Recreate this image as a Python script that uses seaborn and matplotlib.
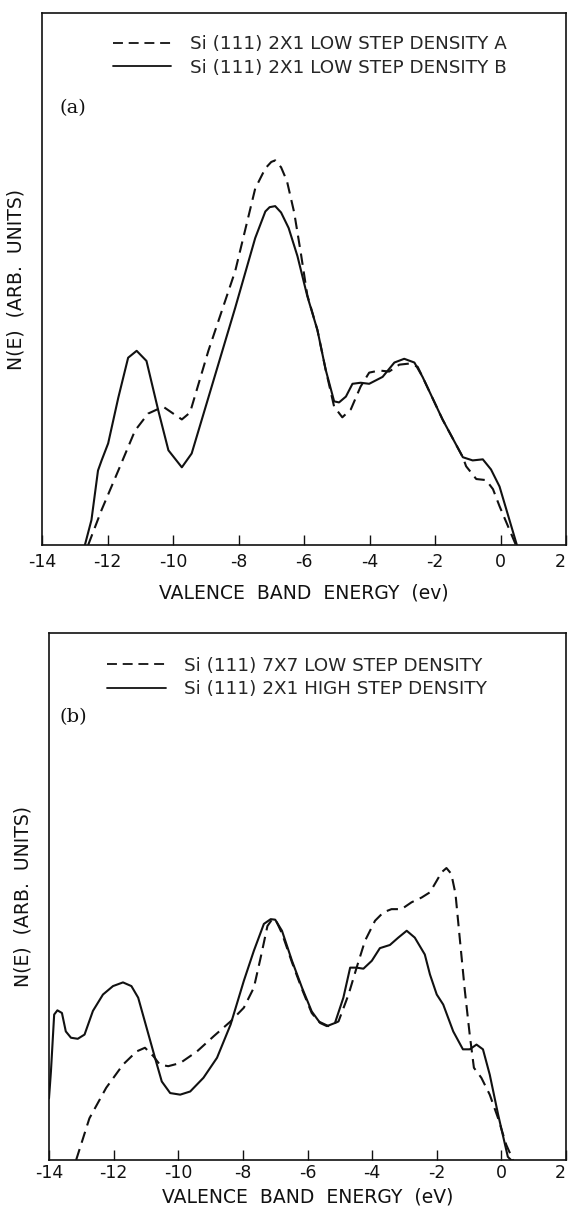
import matplotlib
matplotlib.use("Agg")
import matplotlib.pyplot as plt
import pandas as pd
import seaborn as sns

# ---------------- data: panel (a) ----------------
a_dash_E = [-12.59, -12.18, -11.67, -11.16, -10.76, -10.30, -10.04, -9.73, -9.48, -8.92,
            -8.10, -7.49, -7.18, -7.00, -6.88, -6.70, -6.52, -6.30, -6.10, -5.90,
            -5.59, -5.34, -5.08, -4.83, -4.57, -4.27, -4.01, -3.70, -3.40, -3.09,
            -2.79, -2.53, -2.38, -1.77, -1.15, -1.05, -0.74, -0.44, -0.23, -0.03, 0.47]
a_dash_N = [0.0, 6.6, 14.0, 21.5, 24.7, 26.0, 24.9, 23.6, 24.9, 36.5,
            51.5, 67.0, 70.8, 72.0, 72.3, 71.0, 68.4, 62.5, 55.0, 47.0,
            40.4, 33.0, 26.0, 24.0, 25.5, 29.8, 32.4, 32.8, 32.6, 33.9,
            34.1, 33.5, 31.6, 23.6, 16.5, 14.8, 12.4, 12.2, 10.5, 7.3, 0.0]

a_solid_E = [-12.69, -12.49, -12.29, -12.18, -11.98, -11.67, -11.37, -11.11, -10.81, -10.45,
             -10.14, -9.73, -9.43, -8.92, -8.10, -7.49, -7.18, -7.05, -6.88, -6.70,
             -6.47, -6.20, -5.90, -5.59, -5.34, -5.08, -4.93, -4.72, -4.52, -4.27,
             -4.01, -3.60, -3.24, -2.94, -2.63, -2.38, -1.77, -1.15, -0.85, -0.54,
             -0.29, -0.03, 0.50]
a_solid_N = [0.0, 4.7, 14.0, 15.9, 19.1, 27.7, 35.2, 36.5, 34.6, 25.3,
             17.8, 14.6, 17.2, 27.7, 44.6, 57.7, 62.7, 63.5, 63.7, 62.5,
             59.6, 54.3, 46.8, 40.4, 33.0, 27.0, 26.8, 27.9, 30.3, 30.5,
             30.3, 31.6, 34.3, 35.0, 34.3, 31.6, 23.6, 16.5, 15.9, 16.1,
             14.2, 11.0, 0.0]

# ---------------- data: panel (b) ----------------
b_dash_E = [-13.16, -12.75, -12.23, -11.71, -11.29, -11.03, -10.77, -10.57, -10.31, -9.94,
            -9.42, -8.90, -8.38, -7.97, -7.66, -7.45, -7.24, -7.09, -6.98, -6.79,
            -6.48, -6.17, -5.87, -5.66, -5.35, -5.04, -4.73, -4.48, -4.22, -3.91,
            -3.65, -3.40, -3.09, -2.78, -2.47, -2.21, -2.00, -1.85, -1.70, -1.55,
            -1.42, -1.29, -1.13, -0.98, -0.85, -0.62, -0.36, -0.10, 0.15, 0.36]
b_dash_N = [0.0, 7.9, 13.7, 18.1, 20.6, 21.3, 19.7, 18.1, 17.8, 18.4,
            20.6, 23.5, 26.3, 28.9, 32.7, 38.4, 44.4, 45.7, 45.5, 43.0,
            37.5, 32.4, 27.9, 26.3, 25.4, 26.3, 31.4, 36.5, 41.6, 45.4,
            47.0, 47.6, 47.6, 48.9, 49.8, 50.8, 53.0, 54.6, 55.4, 54.3,
            50.5, 42.2, 32.1, 23.8, 17.5, 15.6, 12.4, 7.9, 2.9, 0.0]

b_solid_E = [-14.00, -13.94, -13.84, -13.74, -13.60, -13.48, -13.32, -13.11, -12.90, -12.64,
             -12.33, -12.02, -11.71, -11.45, -11.24, -10.98, -10.72, -10.51, -10.25, -9.94,
             -9.63, -9.22, -8.80, -8.38, -7.97, -7.66, -7.35, -7.14, -7.00, -6.79,
             -6.48, -6.17, -5.87, -5.61, -5.40, -5.15, -4.89, -4.68, -4.48, -4.27,
             -4.01, -3.76, -3.45, -3.19, -2.93, -2.68, -2.37, -2.21, -2.00, -1.80,
             -1.49, -1.19, -0.98, -0.77, -0.57, -0.36, -0.10, 0.20, 0.30]
b_solid_N = [11.7, 16.8, 27.6, 28.4, 27.9, 24.4, 23.2, 23.0, 23.8, 28.3,
             31.4, 33.0, 33.7, 33.0, 30.8, 25.1, 19.4, 14.9, 12.7, 12.4,
             13.0, 15.6, 19.4, 25.7, 34.0, 39.7, 44.8, 45.7, 45.6, 43.5,
             37.8, 32.7, 28.2, 26.0, 25.4, 26.0, 30.8, 36.5, 36.5, 36.3,
             37.8, 40.2, 40.8, 42.2, 43.5, 42.2, 39.0, 35.2, 31.4, 29.5,
             24.4, 21.0, 21.0, 21.9, 21.0, 16.2, 8.6, 0.6, 0.0]

x_ticks = [-14, -12, -10, -8, -6, -4, -2, 0, 2]
x_tick_labels = ["-14", "-12", "-10", "-8", "-6", "-4", "-2", "0", "2"]
a_labels = ["Si (111) 2X1 LOW STEP DENSITY A", "Si (111) 2X1 LOW STEP DENSITY B"]
b_labels = ["Si (111) 7X7 LOW STEP DENSITY", "Si (111) 2X1 HIGH STEP DENSITY"]
a_xlabel = "VALENCE  BAND  ENERGY  (ev)"
b_xlabel = "VALENCE  BAND  ENERGY  (eV)"
y_label = "N(E)  (ARB.  UNITS)"

# ---------------- figure ----------------
sns.set_theme(style="ticks")
plt.rcParams["font.family"] = ["DejaVu Sans"]

W, H = 569, 1212
fig = plt.figure(figsize=(W / 100, H / 100), dpi=100)
ax_a = fig.add_axes([42 / W, 1 - 545 / H, (566 - 42) / W, (545 - 13) / H])
ax_b = fig.add_axes([49 / W, 1 - 1160 / H, (566 - 49) / W, (1160 - 633) / H])

ink = "#111111"


def panel(ax, dE, dN, sE, sN, labels, xlabel, tag, tagpos, legpos, xpad, xlpad):
    df = pd.concat([
        pd.DataFrame({"E": dE, "N": dN, "series": labels[0]}),
        pd.DataFrame({"E": sE, "N": sN, "series": labels[1]}),
    ], ignore_index=True)
    sns.lineplot(data=df, x="E", y="N", style="series", style_order=labels,
                 dashes={labels[0]: (5.5, 3.2), labels[1]: ""},
                 color=ink, linewidth=1.5, estimator=None, sort=False,
                 ax=ax, legend=True)
    handles, labs = ax.get_legend_handles_labels()
    for h in handles:
        h.set_color(ink)
        h.set_linewidth(1.3)
    ax.legend(handles, labs, loc="upper left", bbox_to_anchor=legpos,
              frameon=False, fontsize=13.2, handlelength=3.2, handletextpad=1.0,
              labelspacing=0.3, borderpad=0, borderaxespad=0)
    ax.set_xlim(-14, 2)
    ax.set_ylim(0, 100)
    ax.set_xticks(x_ticks)
    ax.set_xticklabels(x_tick_labels)
    ax.get_xticklabels()[-1].set_horizontalalignment("right")
    ax.set_yticks([])
    ax.tick_params(axis="x", direction="in", length=7, width=1.0, color=ink,
                   labelsize=12.5, pad=xpad, labelcolor=ink)
    for sp in ax.spines.values():
        sp.set_visible(True)
        sp.set_linewidth(1.2)
        sp.set_color(ink)
    ax.set_xlabel(xlabel, fontsize=13.5, color=ink, labelpad=xlpad)
    ax.set_ylabel(y_label, fontsize=13.5, color=ink, labelpad=12)
    ax.text(tagpos[0], tagpos[1], tag, transform=ax.transAxes, fontsize=14,
            family="DejaVu Serif", color=ink, va="center", ha="left")


panel(ax_a, a_dash_E, a_dash_N, a_solid_E, a_solid_N, a_labels, a_xlabel,
      "(a)", (0.034, 0.822), (0.135, 0.958), 6, 9)
panel(ax_b, b_dash_E, b_dash_N, b_solid_E, b_solid_N, b_labels, b_xlabel,
      "(b)", (0.021, 0.84), (0.112, 0.955), 3, 4)

fig.savefig("out.png", dpi=100, facecolor="white")
